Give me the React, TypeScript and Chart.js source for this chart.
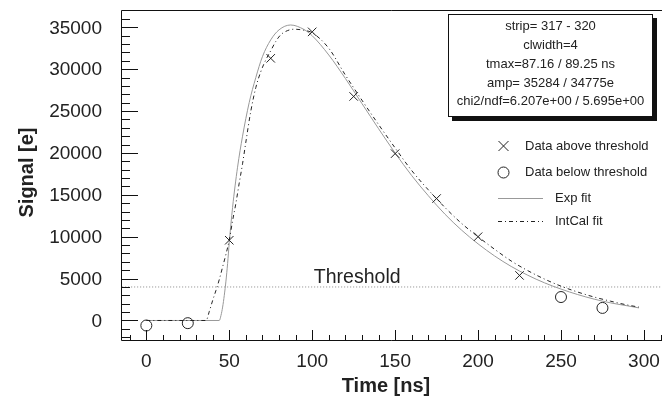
import { useEffect, useRef } from 'react';
import { Chart, registerables } from 'chart.js';

Chart.register(...registerables);

const FONT = '"Liberation Sans", Arial, Helvetica, sans-serif';

// Data points (time in ns, signal in e)
const timeAbove = [50, 75, 100, 125, 150, 175, 200, 225];
const signalAbove = [9580, 31300, 34460, 26750, 19920, 14560, 10000, 5380];
const timeBelow = [0, 25, 250, 275];
const signalBelow = [-600, -320, 2800, 1500];

// Exp fit curve
const expFitTime = [0, 44, 45, 46, 47, 48, 49, 50, 52, 55, 58, 62, 66, 70, 75, 80, 87, 95, 100, 110, 120, 130, 140, 150, 160, 170, 180, 190, 200, 210, 220, 230, 240, 250, 260, 270, 280, 290, 297];
const expFitSignal = [0, 0, 600, 1600, 3000, 4700, 6800, 9300, 13500, 18300, 22000, 26000, 29000, 31500, 33500, 34700, 35280, 34750, 34000, 31700, 28900, 25900, 22900, 20000, 17300, 14900, 12700, 10800, 9150, 7700, 6450, 5400, 4500, 3750, 3100, 2550, 2100, 1750, 1500];

// IntCal fit curve
const intCalTime = [0, 36, 38, 40, 42, 44, 46, 48, 50, 52, 54, 56, 58, 60, 63, 66, 69, 72, 75, 78, 81, 85, 89, 95, 100, 110, 120, 130, 140, 150, 160, 170, 180, 190, 200, 210, 220, 230, 240, 250, 260, 270, 280, 290, 297];
const intCalSignal = [0, 0, 1100, 2400, 3600, 4900, 6400, 7900, 9600, 11900, 14000, 16400, 18700, 21300, 25000, 27800, 29700, 31100, 32200, 33300, 34100, 34600, 34775, 34650, 34350, 32500, 29300, 26300, 23400, 20600, 17900, 15600, 13500, 11600, 10000, 8500, 7100, 5950, 4950, 4100, 3400, 2800, 2300, 1850, 1600];

const thresholdValue = 4000;
const thresholdSpan = [-20, 320];

const xTickLabels = [0, 50, 100, 150, 200, 250, 300];
const yTickLabels = [0, 5000, 10000, 15000, 20000, 25000, 30000, 35000];

const statsLines = [
  'strip= 317 - 320',
  'clwidth=4',
  'tmax=87.16 / 89.25 ns',
  'amp= 35284 / 34775e',
  'chi2/ndf=6.207e+00 / 5.695e+00',
];

const legendLabels = ['Data above threshold', 'Data below threshold', 'Exp fit', 'IntCal fit'];

const zip = (xs: number[], ys: number[]) => xs.map((x, i) => ({ x, y: ys[i] }));

const overlay = {
  id: 'overlay',
  afterDraw(chart: any) {
    const ctx: CanvasRenderingContext2D = chart.ctx;
    const xs = chart.scales.x;
    const ys = chart.scales.y;
    const { left, right, top, bottom } = chart.chartArea;
    ctx.save();
    ctx.strokeStyle = '#111';
    ctx.lineWidth = 1;
    // frame
    ctx.beginPath();
    ctx.moveTo(left - 0.5, bottom + 0.5);
    ctx.lineTo(left - 0.5, top - 0.5);
    ctx.lineTo(right, top - 0.5);
    ctx.moveTo(left - 0.5, bottom + 0.5);
    ctx.lineTo(right, bottom + 0.5);
    ctx.stroke();
    // y ticks (inside)
    ctx.beginPath();
    for (let v = -2000; v <= 36000; v += 1000) {
      const py = Math.round(ys.getPixelForValue(v)) + 0.5;
      const len = v % 5000 === 0 ? 16 : 8;
      ctx.moveTo(left - 0.5, py);
      ctx.lineTo(left + len, py);
    }
    // x ticks (inside)
    for (let v = -10; v <= 310; v += 10) {
      const px = Math.round(xs.getPixelForValue(v)) + 0.5;
      const len = v % 50 === 0 ? 10 : 5;
      ctx.moveTo(px, bottom + 0.5);
      ctx.lineTo(px, bottom - len);
    }
    ctx.stroke();

    // y tick labels
    ctx.fillStyle = '#222';
    ctx.font = `19px ${FONT}`;
    ctx.textAlign = 'right';
    ctx.textBaseline = 'middle';
    yTickLabels.forEach((v) => {
      ctx.fillText(String(v), left - 20, ys.getPixelForValue(v) + 1);
    });

    // Threshold label
    ctx.font = `19.5px ${FONT}`;
    ctx.textAlign = 'left';
    ctx.textBaseline = 'alphabetic';
    ctx.fillText('Threshold', xs.getPixelForValue(101), ys.getPixelForValue(thresholdValue) - 4);

    // axis titles
    ctx.font = `bold 20px ${FONT}`;
    ctx.textAlign = 'center';
    ctx.textBaseline = 'middle';
    ctx.fillText('Time [ns]', 386, 386);
    ctx.save();
    ctx.translate(27.5, 172.5);
    ctx.rotate(-Math.PI / 2);
    ctx.fillText('Signal [e]', 0, 0);
    ctx.restore();

    // stats box
    ctx.fillStyle = '#111';
    ctx.fillRect(452, 18, 205, 103);
    ctx.fillStyle = '#fff';
    ctx.fillRect(448, 14, 205, 103);
    ctx.strokeStyle = '#111';
    ctx.strokeRect(448.5, 14.5, 204, 102);
    ctx.fillStyle = '#222';
    ctx.font = `13px ${FONT}`;
    ctx.textAlign = 'center';
    ctx.textBaseline = 'middle';
    const lineYs = [26, 45, 64.5, 83, 101.5];
    statsLines.forEach((s, i) => ctx.fillText(s, 550.5, lineYs[i]));

    // legend
    ctx.textAlign = 'left';
    ctx.strokeStyle = '#222';
    ctx.lineWidth = 1;
    ctx.beginPath();
    ctx.moveTo(503.5 - 5, 146 - 5);
    ctx.lineTo(503.5 + 5, 146 + 5);
    ctx.moveTo(503.5 + 5, 146 - 5);
    ctx.lineTo(503.5 - 5, 146 + 5);
    ctx.stroke();
    ctx.fillText(legendLabels[0], 525, 146);
    ctx.beginPath();
    ctx.arc(503.5, 172.5, 5.5, 0, Math.PI * 2);
    ctx.stroke();
    ctx.fillText(legendLabels[1], 525, 172.5);
    ctx.strokeStyle = '#999';
    ctx.beginPath();
    ctx.moveTo(498, 198.5);
    ctx.lineTo(543, 198.5);
    ctx.stroke();
    ctx.fillText(legendLabels[2], 555, 198.5);
    ctx.strokeStyle = '#222';
    ctx.setLineDash([4, 3, 1, 3]);
    ctx.beginPath();
    ctx.moveTo(498, 221.5);
    ctx.lineTo(543, 221.5);
    ctx.stroke();
    ctx.setLineDash([]);
    ctx.fillText(legendLabels[3], 555, 221.5);
    ctx.restore();
  },
};

export default function App() {
  const canvasRef = useRef<HTMLCanvasElement | null>(null);

  useEffect(() => {
    if (!canvasRef.current) return;
    const chart = new Chart(canvasRef.current, {
      type: 'scatter',
      data: {
        datasets: [
          {
            label: legendLabels[0],
            data: zip(timeAbove, signalAbove),
            pointStyle: 'crossRot',
            pointRadius: 6,
            borderColor: '#222',
            borderWidth: 1,
            backgroundColor: 'transparent',
            showLine: false,
          },
          {
            label: legendLabels[1],
            data: zip(timeBelow, signalBelow),
            pointStyle: 'circle',
            pointRadius: 5.5,
            borderColor: '#222',
            borderWidth: 1,
            backgroundColor: 'transparent',
            showLine: false,
          },
          {
            label: legendLabels[3],
            data: zip(intCalTime, intCalSignal),
            showLine: true,
            pointRadius: 0,
            borderColor: '#222',
            borderWidth: 1,
            borderDash: [4, 3, 1, 3],
            cubicInterpolationMode: 'monotone',
          },
          {
            label: legendLabels[2],
            data: zip(expFitTime, expFitSignal),
            showLine: true,
            pointRadius: 0,
            borderColor: '#999',
            borderWidth: 1,
            cubicInterpolationMode: 'monotone',
          },
          {
            label: 'Threshold',
            data: thresholdSpan.map((x) => ({ x, y: thresholdValue })),
            showLine: true,
            pointRadius: 0,
            borderColor: '#888',
            borderWidth: 1,
            borderDash: [1, 2],
          },
        ],
      } as any,
      options: {
        responsive: false,
        devicePixelRatio: 1,
        animation: false,
        layout: { padding: { top: 11, left: 0, right: 0, bottom: 0 } },
        plugins: { legend: { display: false }, tooltip: { enabled: false } },
        scales: {
          x: {
            type: 'linear',
            min: -14.67,
            max: 310.9,
            grid: { display: false, drawTicks: false },
            border: { display: false },
            afterFit: (s: any) => { s.height = 70; },
            ticks: {
              stepSize: 50,
              includeBounds: false,
              autoSkip: false,
              maxRotation: 0,
              padding: 10,
              color: '#222',
              font: { family: FONT, size: 19 },
              callback: (v: any) => (xTickLabels.includes(Number(v)) ? String(v) : ''),
            },
          },
          y: {
            type: 'linear',
            min: -2330,
            max: 36950,
            grid: { display: false, drawTicks: false },
            border: { display: false },
            afterFit: (s: any) => { s.width = 122; },
            ticks: { display: false, stepSize: 5000, includeBounds: false },
          },
        },
      },
      plugins: [overlay],
    } as any);
    return () => chart.destroy();
  }, []);

  return (
    <div style={{ position: 'absolute', left: 0, top: 0, width: 670, height: 410, background: '#fff' }}>
      <canvas ref={canvasRef} width={670} height={410} style={{ display: 'block' }} />
    </div>
  );
}
